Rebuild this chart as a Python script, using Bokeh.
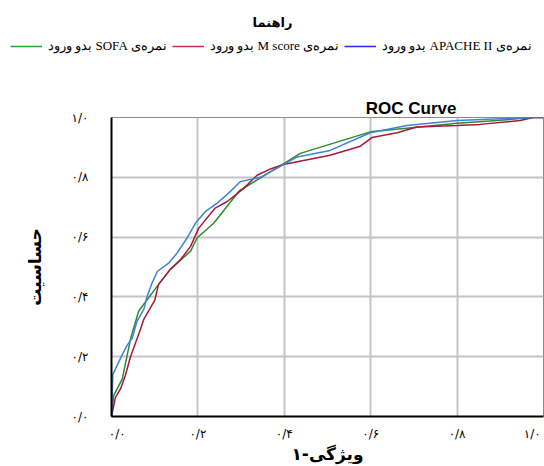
from bokeh.plotting import figure
from bokeh.models import Range1d, FixedTicker, Legend, LegendItem, Title, Label
from bokeh.embed import file_html
from bokeh.resources import INLINE

# ---- data ----
tick_values = [0.0, 0.2, 0.4, 0.6, 0.8, 1.0]
tick_labels = ["۰/۰", "۰/۲", "۰/۴", "۰/۶", "۰/۸", "۱/۰"]

apache_fpr = [0, 0.003, 0.021, 0.036, 0.048, 0.059, 0.075, 0.082, 0.094, 0.106, 0.133,
              0.152, 0.175, 0.196, 0.217, 0.244, 0.271, 0.298, 0.321, 0.345, 0.395,
              0.43, 0.506, 0.599, 0.684, 0.80, 0.90, 0.976, 1.0]
apache_tpr = [0, 0.14, 0.195, 0.238, 0.262, 0.318, 0.359, 0.40, 0.447, 0.485, 0.514,
              0.547, 0.597, 0.65, 0.685, 0.713, 0.747, 0.785, 0.793, 0.80, 0.84,
              0.868, 0.89, 0.949, 0.973, 0.99, 0.996, 1.0, 1.0]

mscore_fpr = [0, 0.009, 0.021, 0.032, 0.044, 0.067, 0.075, 0.100, 0.109, 0.136, 0.160,
              0.183, 0.202, 0.240, 0.268, 0.306, 0.337, 0.368, 0.398, 0.506, 0.576,
              0.603, 0.661, 0.707, 0.80, 0.853, 0.946, 0.976, 1.0]
mscore_tpr = [0, 0.063, 0.093, 0.137, 0.200, 0.292, 0.326, 0.388, 0.442, 0.492, 0.525,
              0.569, 0.630, 0.697, 0.719, 0.763, 0.807, 0.828, 0.843, 0.874, 0.904,
              0.933, 0.949, 0.968, 0.973, 0.977, 0.99, 1.0, 1.0]

sofa_fpr = [0, 0.005, 0.025, 0.044, 0.063, 0.109, 0.136, 0.183, 0.198, 0.237, 0.296,
            0.398, 0.437, 0.599, 0.695, 0.80, 0.892, 0.976, 1.0]
sofa_tpr = [0, 0.07, 0.126, 0.259, 0.353, 0.442, 0.492, 0.553, 0.597, 0.647, 0.755,
            0.845, 0.88, 0.952, 0.966, 0.981, 0.99, 1.0, 1.0]

# legend texts: right-to-left embedding inside a left-to-right line
LRM, RLE, PDF = "\u200e", "\u202b", "\u202c"
series_names = ["نمره‌ی SOFA بدو ورود",
                "نمره‌ی M score بدو ورود",
                "نمره‌ی APACHE II بدو ورود"]
series_labels = [LRM + RLE + s + PDF for s in series_names]
series_colors = ["#2b8a35", "#a8183a", "#3f82d6"]
legend_colors = ["#22a52c", "#d0304c", "#2828f0"]
legend_title = "راهنما"
chart_title = "ROC Curve"
x_title = "ویژگی-۱"
y_title = "حساسیت"

NB = "\u00a0"

# ---- main figure ----
p = figure(width=544, height=370, output_backend="svg", toolbar_location=None,
           x_range=Range1d(0, 1), y_range=Range1d(0, 1),
           min_border_left=111, min_border_right=1, min_border_top=15,
           min_border_bottom=48)
p.background_fill_color = "white"
p.outline_line_color = "#8a8a8a"
p.outline_line_width = 1

r_sofa = p.line(sofa_fpr, sofa_tpr, line_color=series_colors[0], line_width=1.5)
r_msc = p.line(mscore_fpr, mscore_tpr, line_color=series_colors[1], line_width=1.5)
r_apa = p.line(apache_fpr, apache_tpr, line_color=series_colors[2], line_width=1.5)

tick_map = dict(zip(tick_values, tick_labels))
for ax in (p.xaxis[0], p.yaxis[0]):
    ax.ticker = FixedTicker(ticks=tick_values)
    ax.major_tick_in = 0
    ax.major_tick_out = 0
    ax.minor_tick_in = 0
    ax.minor_tick_out = 0
    ax.axis_line_color = "black"
    ax.axis_line_width = 2
    ax.major_label_text_font = "DejaVu Sans"
    ax.major_label_text_font_size = "12px"
    ax.major_label_text_color = "black"
    ax.axis_label_text_font = "DejaVu Sans"
    ax.axis_label_text_font_style = "bold"
    ax.axis_label_text_font_size = "17px"
    ax.axis_label_text_color = "black"

p.yaxis[0].major_label_overrides = tick_map
p.yaxis[0].major_label_standoff = 23
p.yaxis[0].axis_label = y_title
p.yaxis[0].axis_label_standoff = 24

x_over = dict(tick_map)
x_over[tick_values[0]] = NB * 3 + tick_labels[0]
x_over[tick_values[-1]] = tick_labels[-1] + NB
p.xaxis[0].major_label_overrides = x_over
p.xaxis[0].major_label_standoff = 10
p.xaxis[0].axis_label = x_title
p.xaxis[0].axis_label_standoff = 0

p.grid.grid_line_color = "#c4c4c4"
p.grid.grid_line_width = 2

t_roc = Title(text=chart_title, align="right", offset=87, standoff=0,
              text_font="Liberation Sans", text_font_style="bold",
              text_font_size="17px", text_color="black")
p.add_layout(t_roc, "above")

# ---- legend strip on top, a separate root (its lines lie outside its range) ----
top = figure(width=544, height=96, output_backend="svg", toolbar_location=None,
             x_range=Range1d(0, 1), y_range=Range1d(5, 6),
             x_axis_type=None, y_axis_type=None,
             min_border_left=0, min_border_right=0, min_border_top=0, min_border_bottom=0)
top.outline_line_color = None
top.grid.visible = False
leg_renderers = [top.line(fx, ty, line_color=c, line_width=1.5)
                 for fx, ty, c in zip([sofa_fpr, mscore_fpr, apache_fpr],
                                      [sofa_tpr, mscore_tpr, apache_tpr], legend_colors)]

legend = Legend(items=[LegendItem(label=lab, renderers=[r])
                       for lab, r in zip(series_labels, leg_renderers)],
                orientation="horizontal", location=(10, 42),
                glyph_width=32, glyph_height=14, label_standoff=6, spacing=5,
                padding=0, margin=0, background_fill_alpha=0, border_line_alpha=0,
                label_text_font="Liberation Serif", label_text_font_size="13px",
                label_text_color="black", label_height=14)
top.add_layout(legend)
top.add_layout(Label(x=272, y=74, x_units="screen", y_units="screen", text=legend_title,
                     text_align="center", text_baseline="middle", text_font="DejaVu Sans",
                     text_font_style="bold", text_font_size="13px", text_color="black"))

open("out.html", "w").write(file_html([top, p], INLINE))
